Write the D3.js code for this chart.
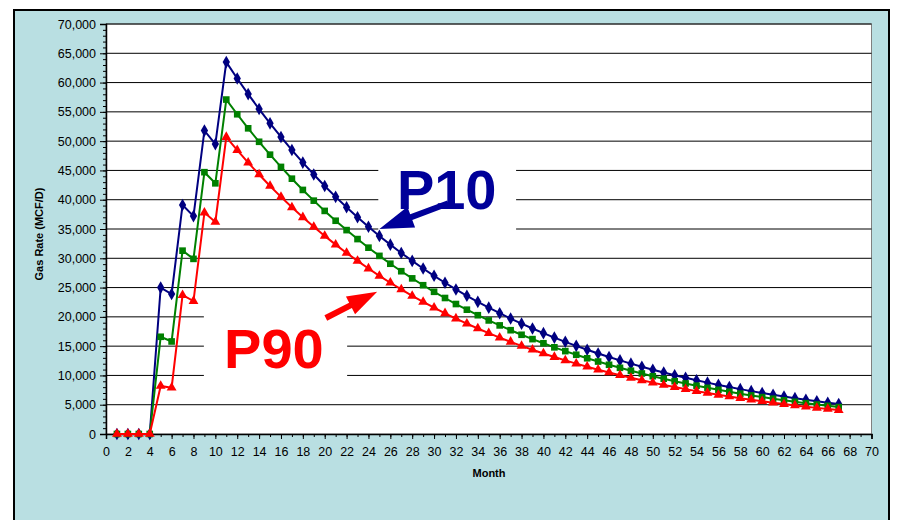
<!DOCTYPE html>
<html>
<head>
<meta charset="utf-8">
<script src="https://cdn.jsdelivr.net/npm/d3@7"></script>
<style>
  body { margin: 0; background: #fff; }
  svg { display: block; }
  text { font-family: Arial, "Liberation Sans", sans-serif; }
</style>
</head>
<body>
<div id="chart"></div>
<script>
// Monthly gas rate forecasts (MCF/D), months 1..67
var months = [1,2,3,4,5,6,7,8,9,10,11,12,13,14,15,16,17,18,19,20,21,22,23,24,25,26,27,28,29,30,
  31,32,33,34,35,36,37,38,39,40,41,42,43,44,45,46,47,48,49,50,51,52,53,54,55,56,57,58,59,60,
  61,62,63,64,65,66,67];

var p10 = [0,0,0,0,25000,23900,39100,37200,51800,49500,63500,60700,58030,55480,53040,50710,48480,
  46340,44300,42350,40490,38710,37010,35380,33820,32330,30910,29550,28250,27010,25820,24680,
  23600,22560,21570,20620,19710,18840,18010,17220,16460,15740,15050,14380,13750,13150,12570,
  12010,11490,10980,10500,10040,9590,9170,8770,8380,8010,7660,7320,7000,6690,6400,6120,5850,
  5590,5340,5110];

var p50 = [0,0,0,0,16600,15800,31300,29900,44700,42800,57100,54590,52190,49890,47690,45600,43590,
  41670,39840,38090,36410,34810,33280,31810,30410,29070,27790,26570,25400,24280,23220,22190,
  21220,20280,19390,18540,17720,16940,16200,15490,14800,14150,13530,12930,12370,11820,11300,
  10800,10330,9870,9440,9020,8630,8250,7880,7540,7210,6890,6590,6300,6020,5750,5500,5260,
  5030,4810,4600];

var p90 = [0,0,0,0,8200,7900,23700,22700,37800,36200,50700,48470,46340,44300,42350,40490,38700,
  37000,35370,33820,32330,30910,29550,28250,27000,25820,24680,23590,22560,21560,20610,19710,
  18840,18010,17220,16460,15740,15040,14380,13750,13140,12570,12010,11480,10980,10500,10030,
  9590,9170,8770,8380,8010,7660,7320,7000,6690,6400,6120,5850,5590,5340,5110,4880,4670,
  4460,4270,4080];

var seriesNames = ["P10", "P50", "P90"];
var seriesColors = ["#000080", "#008000", "#ff0000"];
var seriesShapes = [d3.symbolDiamond, d3.symbolSquare, d3.symbolTriangle];

var yTicks = [0,5000,10000,15000,20000,25000,30000,35000,40000,45000,50000,55000,60000,65000,70000];
var xTicks = [0,2,4,6,8,10,12,14,16,18,20,22,24,26,28,30,32,34,36,38,40,42,44,46,48,50,52,54,56,58,60,62,64,66,68,70];

// callouts, in data units: [month, rate]
var p10Label = [26.6, 38370];
var p90Label = [10.8, 11270];
var p10Box = [[24.9, 48500], [37.5, 33400]];
var p90Box = [[8.95, 23600], [22.05, 7100]];
var p10Arrow = [[31.3, 39400], [25.0, 35000]];
var p90Arrow = [[20.1, 19800], [24.8, 24300]];

var W = 897, H = 520;
var svg = d3.select("#chart").append("svg").attr("width", W).attr("height", H);

// chart area
svg.append("rect")
  .attr("x", 14).attr("y", 10).attr("width", 875).attr("height", 540)
  .attr("fill", "#b9dfe2").attr("stroke", "#000").attr("stroke-width", 2);

var x = d3.scaleLinear().domain([0, 70]).range([106, 871.5]);
var y = d3.scaleLinear().domain([0, 70000]).range([434, 24]);

// plot area
svg.append("rect")
  .attr("x", x(0)).attr("y", y(70000))
  .attr("width", x(70) - x(0)).attr("height", y(0) - y(70000))
  .attr("fill", "#fff").attr("stroke", "#808080").attr("stroke-width", 1);

// gridlines
svg.append("g").selectAll("line")
  .data(yTicks.filter(d => d > 0))
  .enter().append("line")
  .attr("x1", x(0)).attr("x2", x(70))
  .attr("y1", d => y(d)).attr("y2", d => y(d))
  .attr("stroke", "#000").attr("stroke-width", 1);

// white boxes behind the callout text
[p10Box, p90Box].forEach(b => {
  svg.append("rect")
    .attr("x", x(b[0][0])).attr("y", y(b[0][1]))
    .attr("width", x(b[1][0]) - x(b[0][0]))
    .attr("height", y(b[1][1]) - y(b[0][1]))
    .attr("fill", "#fff");
});

// axes
var yMinor = d3.range(0, 70001, 1000);
svg.append("g")
  .attr("transform", "translate(" + x(0) + ",0)")
  .call(d3.axisLeft(y).tickValues(yMinor).tickSize(3).tickFormat(""))
  .call(g => g.select(".domain").remove());

var yAxis = svg.append("g")
  .attr("transform", "translate(" + x(0) + ",0)")
  .call(d3.axisLeft(y).tickValues(yTicks).tickSize(6).tickPadding(4).tickFormat(d3.format(",")));

var xMinor = d3.range(0, 71, 1);
svg.append("g")
  .attr("transform", "translate(0," + y(0) + ")")
  .call(d3.axisBottom(x).tickValues(xMinor).tickSize(3).tickFormat(""))
  .call(g => g.select(".domain").remove());

var xAxis = svg.append("g")
  .attr("transform", "translate(0," + y(0) + ")")
  .call(d3.axisBottom(x).tickValues(xTicks).tickSize(5).tickPadding(8));

svg.selectAll(".tick text")
  .attr("font-size", 12.5)
  .attr("font-family", "Arial, 'Liberation Sans', sans-serif")
  .attr("fill", "#000");
svg.selectAll(".domain").attr("stroke", "#000").attr("stroke-width", 1.5);
svg.selectAll(".tick line").attr("stroke", "#000");

// axis titles
svg.append("text")
  .attr("transform", "translate(43," + 234 + ") rotate(-90)")
  .attr("text-anchor", "middle")
  .attr("font-size", 11).attr("font-weight", "bold")
  .text("Gas Rate (MCF/D)");

svg.append("text")
  .attr("x", 489).attr("y", 477)
  .attr("text-anchor", "middle")
  .attr("font-size", 11).attr("font-weight", "bold")
  .text("Month");

// series
var line = d3.line()
  .x((d, i) => x(months[i]))
  .y(d => y(d));

[p10, p50, p90].forEach((vals, k) => {
  var g = svg.append("g").attr("class", "series " + seriesNames[k]);
  g.append("path")
    .datum(vals)
    .attr("d", line)
    .attr("fill", "none")
    .attr("stroke", seriesColors[k])
    .attr("stroke-width", 2);

  var sym = d3.symbol().type(seriesShapes[k]).size(k == 0 ? 46 : (k == 1 ? 44 : 42));
  g.selectAll("path.mark")
    .data(vals)
    .enter().append("path")
    .attr("class", "mark")
    .attr("transform", (d, i) => "translate(" + x(months[i]) + "," + y(d) + ")")
    .attr("d", sym)
    .attr("fill", seriesColors[k]);
});

// callout arrows
function arrowPath(a, b, shaft, headLen, headW) {
  var x0 = x(a[0]), y0 = y(a[1]), x1 = x(b[0]), y1 = y(b[1]);
  var dx = x1 - x0, dy = y1 - y0, len = Math.sqrt(dx * dx + dy * dy);
  var ux = dx / len, uy = dy / len, nx = -uy, ny = ux;
  var bx = x1 - ux * headLen, by = y1 - uy * headLen;
  var pts = [
    [x0 + nx * shaft / 2, y0 + ny * shaft / 2],
    [bx + nx * shaft / 2, by + ny * shaft / 2],
    [bx + nx * headW / 2, by + ny * headW / 2],
    [x1, y1],
    [bx - nx * headW / 2, by - ny * headW / 2],
    [bx - nx * shaft / 2, by - ny * shaft / 2],
    [x0 - nx * shaft / 2, y0 - ny * shaft / 2]
  ];
  return "M" + pts.map(p => p[0] + "," + p[1]).join("L") + "Z";
}

svg.append("path").attr("d", arrowPath(p10Arrow[0], p10Arrow[1], 6, 34, 22)).attr("fill", "#000099");
svg.append("path").attr("d", arrowPath(p90Arrow[0], p90Arrow[1], 6, 30, 20)).attr("fill", "#ff0000");

// callout labels
svg.append("text")
  .attr("x", x(p10Label[0])).attr("y", y(p10Label[1]))
  .attr("font-size", 56).attr("font-weight", "bold")
  .attr("fill", "#000099")
  .text("P10");

svg.append("text")
  .attr("x", x(p90Label[0])).attr("y", y(p90Label[1]))
  .attr("font-size", 56).attr("font-weight", "bold")
  .attr("fill", "#ff0000")
  .text("P90");
</script>
</body>
</html>
